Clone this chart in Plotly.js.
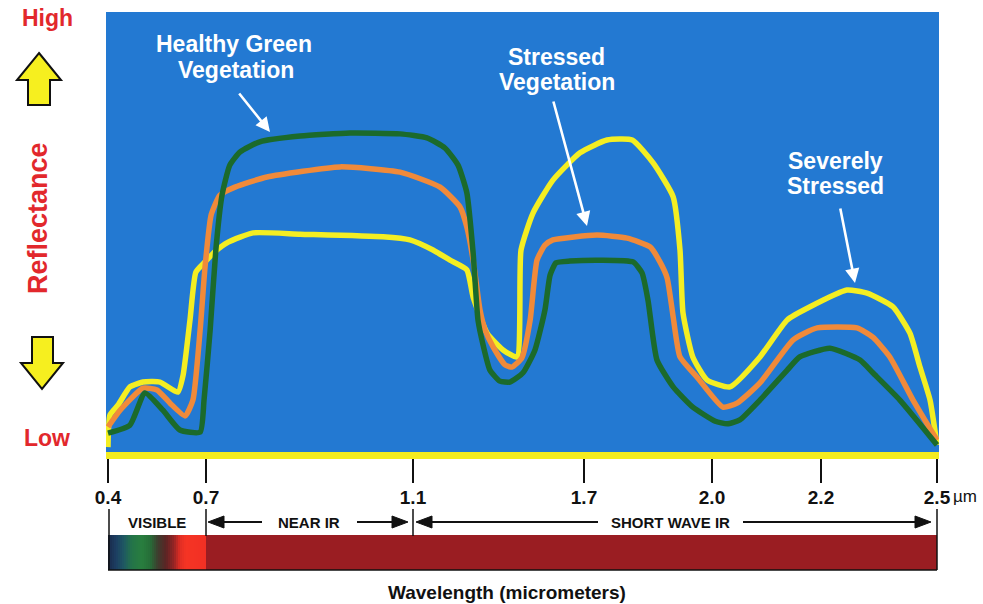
<!DOCTYPE html>
<html><head><meta charset="utf-8">
<script src="https://cdn.plot.ly/plotly-3.0.1.min.js"></script>
<style>html,body{margin:0;padding:0;background:#fff}#chart{width:983px;height:604px}</style>
</head><body><div id="chart"></div>
<script>
// ---- data (wavelength in micrometers, relative reflectance 0-100) ----
const tickWavelengths = [0.4, 0.7, 1.1, 1.7, 2.0, 2.2, 2.5];
const tickLabels = ['0.4', '0.7', '1.1', '1.7', '2.0', '2.2', '2.5'];

const healthyWl = [0.400,0.467,0.513,0.568,0.620,0.682,0.694,0.708,0.719,0.731,0.746,0.766,0.804,0.882,0.978,1.075,1.149,1.212,1.258,1.289,1.311,1.328,1.346,1.370,1.405,1.440,1.486,1.528,1.563,1.581,1.602,1.651,1.738,1.815,1.836,1.850,1.871,1.909,1.955,2.006,2.028,2.051,2.088,2.138,2.161,2.223,2.301,2.334,2.404,2.500];
const healthyRefl = [4.3,6.1,13.4,9.5,5.0,4.5,11.8,27.7,45.9,58.4,65.2,68.2,70.5,71.8,72.5,72.3,71.4,69.1,65.2,58.9,45.2,30.0,24.3,18.6,16.1,15.9,18.0,23.2,32.3,40.2,43.0,43.4,43.6,43.2,40.7,34.5,20.9,14.8,10.2,7.0,6.4,7.3,11.8,18.6,21.6,23.6,20.9,18.0,11.8,1.6];

const stressedWl = [0.400,0.437,0.507,0.550,0.590,0.636,0.660,0.682,0.697,0.710,0.727,0.756,0.818,0.959,1.075,1.195,1.265,1.289,1.311,1.335,1.353,1.381,1.423,1.447,1.482,1.511,1.535,1.563,1.591,1.730,1.801,1.855,1.878,1.895,1.909,1.925,1.965,2.020,2.046,2.088,2.149,2.193,2.293,2.334,2.378,2.438,2.500];
const stressedRefl = [5.7,9.5,14.5,14.1,11.1,8.2,11.8,27.7,42.0,53.9,58.4,60.2,62.5,64.8,63.6,60.2,55.7,51.1,43.6,32.3,27.7,23.9,19.8,19.3,21.4,30.0,43.6,47.0,48.2,49.3,48.6,46.6,43.2,39.5,30.7,21.6,17.0,10.2,11.1,15.7,25.5,28.2,28.2,26.1,21.6,11.8,2.7];

const severeWl = [0.400,0.406,0.431,0.467,0.507,0.559,0.614,0.630,0.651,0.669,0.697,0.717,0.743,0.791,0.882,1.042,1.094,1.170,1.230,1.289,1.311,1.360,1.416,1.465,1.479,1.521,1.591,1.686,1.754,1.813,1.862,1.909,1.925,1.932,1.955,1.988,2.033,2.088,2.138,2.180,2.267,2.319,2.386,2.430,2.456,2.482,2.500];
const severeRefl = [1.1,8.4,10.7,14.8,15.9,15.9,13.6,17.5,30.0,40.9,43.2,45.5,47.7,49.8,49.5,48.9,48.2,45.9,43.6,41.4,35.2,27.0,23.2,21.6,45.9,54.3,61.8,68.0,70.9,70.9,65.7,58.0,45.9,31.6,21.6,16.4,14.8,21.6,30.0,33.0,36.8,36.1,33.0,27.0,19.3,11.8,1.6];

// ---- layout helpers (the printed axis is not linear in wavelength) ----
const tickAxisPos = [2, 100, 307, 478, 606, 715, 831]; // position of each tick along the axis
function axisPos(w) {
  for (let i = 0; i < tickWavelengths.length - 1; i++) {
    const a = tickWavelengths[i], b = tickWavelengths[i + 1];
    if (w <= b || i === tickWavelengths.length - 2) {
      return tickAxisPos[i] + (w - a) / (b - a) * (tickAxisPos[i + 1] - tickAxisPos[i]);
    }
  }
}
const L = 106, T = 12, W = 833, H = 440;
const P = px => (px - L) / W;
const Q = py => (T + H - py) / H;

const FONT = 'Liberation Sans, Arial, sans-serif';
const lineTrace = (xs, ys, color, name) => ({
  type: 'scatter', mode: 'lines', name: name,
  x: xs.map(axisPos), y: ys,
  line: {color: color, width: 5.5, shape: 'spline', smoothing: 0.5},
  hoverinfo: 'skip'
});

const traces = [
  lineTrace(severeWl, severeRefl, '#f4ee22', 'Severely Stressed'),
  lineTrace(stressedWl, stressedRefl, '#f08a3a', 'Stressed Vegetation'),
  lineTrace(healthyWl, healthyRefl, '#1b6a2b', 'Healthy Green Vegetation')
];

const shapes = [];
const poly = (pts, fill, lc, lw) => shapes.push({
  type: 'path', xref: 'paper', yref: 'paper',
  path: 'M ' + pts.map(p => P(p[0]) + ',' + Q(p[1])).join(' L ') + ' Z',
  fillcolor: fill, line: {color: lc, width: lw}
});
const seg = (x0, y0, x1, y1, w) => shapes.push({
  type: 'line', xref: 'paper', yref: 'paper',
  x0: P(x0), y0: Q(y0), x1: P(x1), y1: Q(y1), line: {color: '#111', width: w}
});
// yellow up / down arrows
poly([[39,53],[61,80],[50,80],[50,105],[28,105],[28,80],[17,80]], '#f6ef1f', '#111', 2);
poly([[32,337],[53,337],[53,363],[63,363],[42,389],[21,363],[32,363]], '#f6ef1f', '#111', 2);

// spectrum bar
const stops = [[108,[25,40,72]],[116,[28,62,98]],[124,[30,88,98]],[132,[36,116,72]],[142,[40,126,62]],[150,[38,110,56]],[158,[62,60,46]],[166,[92,36,36]],[174,[150,36,36]],[180,[225,46,36]],[186,[245,52,36]],[206,[242,48,36]]];
function colAt(px) {
  for (let i = 0; i < stops.length - 1; i++) {
    if (px <= stops[i + 1][0]) {
      const f = (px - stops[i][0]) / (stops[i + 1][0] - stops[i][0]);
      const c = stops[i][1].map((v, k) => Math.round(v + f * (stops[i + 1][1][k] - v)));
      return 'rgb(' + c.join(',') + ')';
    }
  }
  return 'rgb(242,48,36)';
}
for (let px = 108; px < 206; px += 2) {
  shapes.push({type: 'rect', xref: 'paper', yref: 'paper', x0: P(px), x1: P(px + 2.3), y0: Q(570), y1: Q(535),
    fillcolor: colAt(px + 1), line: {width: 0}});
}
shapes.push({type: 'rect', xref: 'paper', yref: 'paper', x0: P(206), x1: P(937), y0: Q(570), y1: Q(535),
  fillcolor: '#9a1d22', line: {width: 0}});
seg(108, 570, 937, 570, 1.5);

// region separators and arrows
seg(109, 509, 109, 570, 1.5);
seg(206, 509, 206, 536, 1.5);
seg(413, 509, 413, 536, 1.5);
seg(937, 509, 937, 570, 1.5);
seg(218, 522, 262, 522, 2);
seg(357, 522, 398, 522, 2);
seg(426, 522, 598, 522, 2);
seg(743, 522, 920, 522, 2);
poly([[208,522],[224,516],[224,528]], '#111', '#111', 1);
poly([[408,522],[392,516],[392,528]], '#111', '#111', 1);
poly([[416,522],[432,516],[432,528]], '#111', '#111', 1);
poly([[931,522],[915,516],[915,528]], '#111', '#111', 1);

const ann = [];
const txt = (s, px, py, size, color, extra) => ann.push(Object.assign({
  text: s, xref: 'paper', yref: 'paper', x: P(px), y: Q(py), xanchor: 'center', yanchor: 'middle',
  showarrow: false, font: {family: FONT, size: size, color: color, weight: 'bold'}
}, extra || {}));
txt('Healthy Green', 234, 44, 23, '#ffffff');
txt('Vegetation', 236, 70, 23, '#ffffff');
txt('Stressed', 556, 57, 23, '#ffffff');
txt('Vegetation', 557, 82, 23, '#ffffff');
txt('Severely', 835, 161, 23, '#ffffff');
txt('Stressed', 835, 186, 23, '#ffffff');
txt('High', 47, 18, 23, '#e2282c');
txt('Low', 47, 438, 23, '#e2282c');
txt('Reflectance', 38, 218, 27, '#e2282c', {textangle: -90});
ann.push({text: 'µm', xref: 'paper', yref: 'paper', x: P(951), y: Q(496), xanchor: 'left', yanchor: 'middle',
  showarrow: false, font: {family: FONT, size: 17, color: '#111'}});
txt('VISIBLE', 157, 522, 15, '#111');
txt('NEAR IR', 309, 522, 15, '#111');
txt('SHORT WAVE IR', 670, 522, 15, '#111');
txt('Wavelength (micrometers)', 507, 592, 19, '#111');

const arrow = (tipX, tipY, tailX, tailY) => ann.push({
  text: '', xref: 'paper', yref: 'paper', x: P(tipX), y: Q(tipY), ax: tailX - tipX, ay: tailY - tipY,
  showarrow: true, arrowhead: 2, arrowsize: 1.1, arrowwidth: 2.6, arrowcolor: '#ffffff', standoff: 0
});
arrow(270, 132, 238, 92);
arrow(587, 226, 553, 100);
arrow(855, 283, 840, 207);

const layout = {
  width: 983, height: 604,
  margin: {l: L, r: 983 - L - W, t: T, b: 604 - T - H, pad: 0},
  paper_bgcolor: '#ffffff', plot_bgcolor: '#2379d2',
  showlegend: false,
  font: {family: FONT, color: '#111'},
  xaxis: {
    range: [0, W], showgrid: false, zeroline: false,
    showline: true, linecolor: '#f3ec1f', linewidth: 7,
    ticks: 'outside', ticklen: 24, tickwidth: 2.5, tickcolor: '#111',
    tickvals: tickWavelengths.map(axisPos), ticktext: tickLabels,
    tickfont: {family: FONT, size: 19, color: '#111', weight: 'bold'},
    ticklabelstandoff: -2,
    fixedrange: true
  },
  yaxis: {range: [0, 100], visible: false, showgrid: false, zeroline: false, fixedrange: true},
  shapes: shapes, annotations: ann
};
Plotly.newPlot('chart', traces, layout, {displayModeBar: false, staticPlot: true});
</script></body></html>
